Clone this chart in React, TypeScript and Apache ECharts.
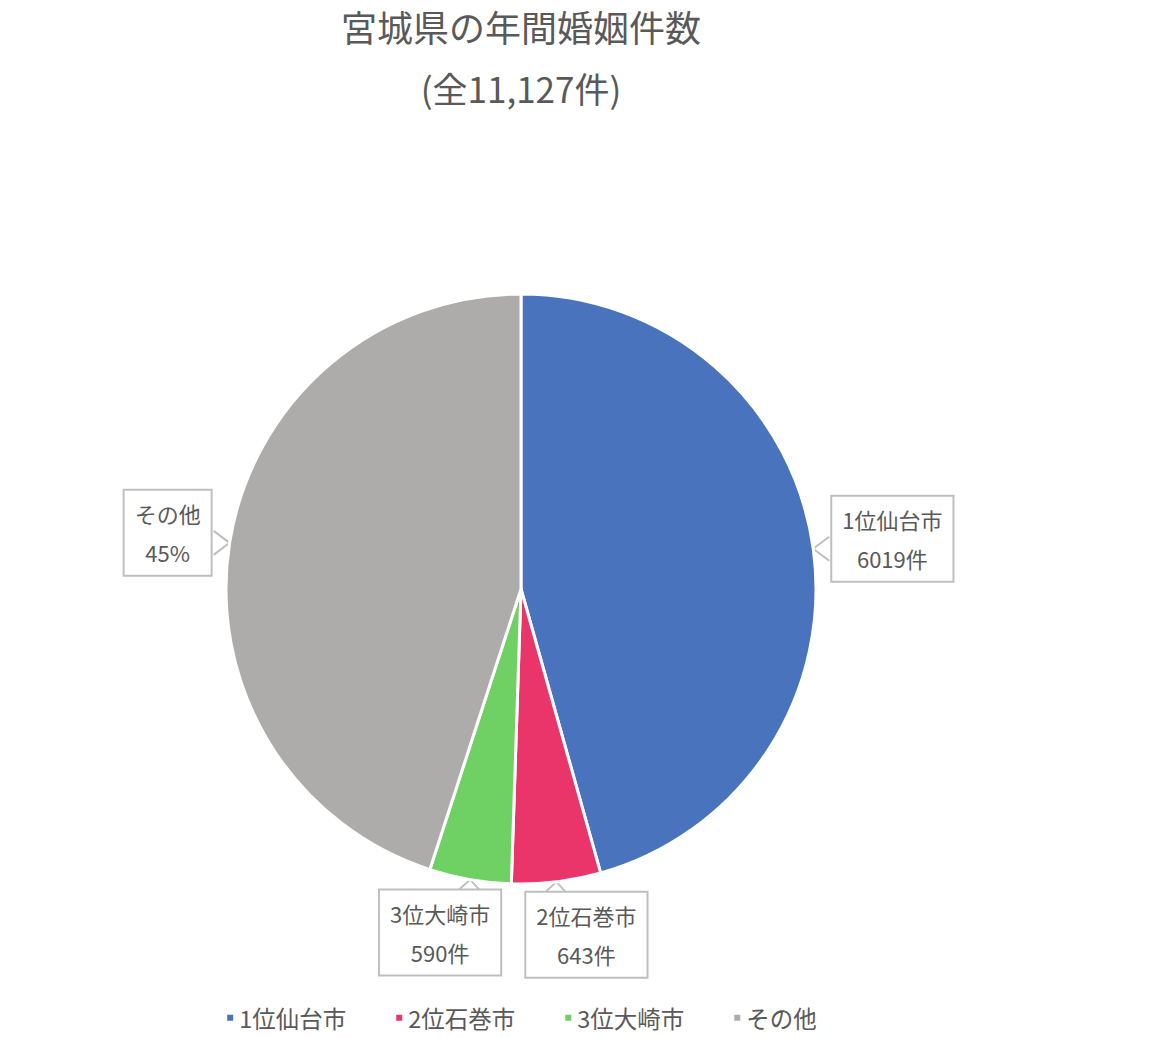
import React, { useEffect, useRef } from "react";
import * as echarts from "echarts";

const titleLine1 = "宮城県の年間婚姻件数";
const titleLine2 = "(全11,127件)";
const categories = ["1位仙台市", "2位石巻市", "3位大崎市", "その他"];
const values = [6019, 643, 590, 5934];
const colors = ["#4A73BE", "#EA356B", "#6FD163", "#ADACAB"];
const showPercent = [false, false, false, true];

const FONT = "'Noto Sans CJK JP', 'Noto Sans', sans-serif";
const TEXT = "#595959";

export default function App() {
  const ref = useRef<HTMLDivElement>(null);
  useEffect(() => {
    if (!ref.current) return;
    const chart = echarts.init(ref.current, undefined, { renderer: "svg" });
    const data = categories.map((name, i) => ({
      name,
      value: values[i],
      itemStyle: { color: colors[i] },
    }));
    chart.setOption({
      animation: false,
      backgroundColor: "#ffffff",
      textStyle: { fontFamily: FONT },
      title: {
        text: titleLine1,
        subtext: titleLine2,
        left: "center",
        top: 0,
        padding: 0,
        itemGap: 25,
        textStyle: { fontSize: 36, fontWeight: "normal", color: TEXT, fontFamily: FONT, lineHeight: 36 },
        subtextStyle: { fontSize: 35, color: TEXT, fontFamily: FONT, lineHeight: 36 },
      },
      legend: {
        data: categories,
        top: 993,
        left: "center",
        icon: "rect",
        itemWidth: 8,
        itemHeight: 8,
        itemGap: 48,
        textStyle: { fontSize: 23.5, color: TEXT, fontFamily: FONT },
      },
      series: [
        {
          type: "pie",
          center: ["50%", 581],
          radius: 295,
          startAngle: 90,
          clockwise: true,
          avoidLabelOverlap: false,
          data,
          itemStyle: { borderColor: "#ffffff", borderWidth: 3 },
          label: {
            show: true,
            position: "outside",
            alignTo: "none",
            formatter: (p: any) =>
              showPercent[p.dataIndex]
                ? `${p.name}\n${Math.round(p.percent)}%`
                : `${p.name}\n${p.value}件`,
            fontSize: 22,
            lineHeight: 39,
            color: TEXT,
            fontFamily: FONT,
            backgroundColor: "#ffffff",
            borderColor: "#BFBFBF",
            borderWidth: 2,
            padding: [3, 10],
          },
          labelLine: {
            show: true,
            length: 5,
            length2: 0,
            smooth: false,
            lineStyle: { color: "#BFBFBF", width: 2 },
          },
          labelLayout: (params: any) => {
            const pts = params.labelLinePoints;
            if (!pts) return {};
            const a = pts[0];
            const b = pts[1];
            const dx = b[0] - a[0];
            const dy = b[1] - a[1];
            const w = params.labelRect.width;
            const sx = dx < 0 ? -1 : 1;
            if (Math.abs(dy) > Math.abs(dx)) {
              const y = a[1] + 11;
              return {
                x: a[0] + sx * 30,
                y,
                align: "center",
                verticalAlign: "top",
                labelLinePoints: [
                  [a[0] - 13, y + 1],
                  [a[0], a[1]],
                  [a[0] + 11, y + 1],
                ],
              };
            }
            const edge = a[0] + sx * 17;
            return {
              x: edge + (sx * w) / 2,
              y: a[1] - 10,
              align: "center",
              verticalAlign: "middle",
              labelLinePoints: [
                [edge - sx, a[1] - 12],
                [a[0], a[1]],
                [edge - sx, a[1] + 12],
              ],
            };
          },
        },
      ],
    });
    return () => chart.dispose();
  }, []);
  return <div ref={ref} style={{ width: 1026, height: 1030 }} />;
}
